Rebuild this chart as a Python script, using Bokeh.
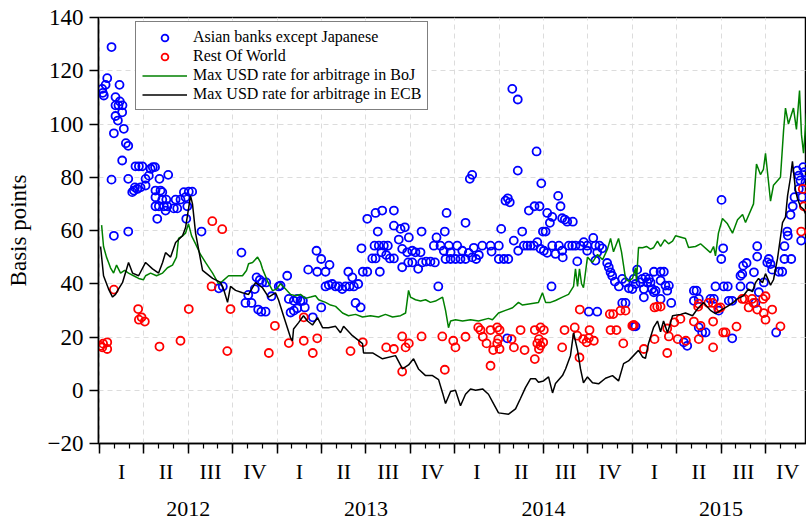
from bokeh.plotting import figure
from bokeh.models import Range1d, LinearAxis, FixedTicker, Legend, LegendItem, CustomLabelingPolicy
from bokeh.embed import file_html
from bokeh.resources import INLINE

FONT = "Liberation Serif"

# ---- data: x = months since 1 Jan 2012, y = basis points ----
asia_month = [
    0.18, 0.22, 0.29, 0.41, 0.52, 0.81, 1.35, 1.08, 1.37, 1.08,
    1.28, 1.55, 1.53, 1.08, 1.24, 0.97, 1.64, 1.78, 1.94, 1.53,
    0.81, 1.94, 0.97, 1.94, 2.21, 2.32, 2.39, 2.55, 2.77, 3.11,
    3.11, 3.33, 3.45, 3.60, 3.75, 2.43, 2.66, 2.89, 4.05, 4.64,
    3.78, 4.12, 4.24, 3.78, 3.78, 4.01, 4.24, 4.35, 4.51, 4.58,
    4.46, 3.90, 5.02, 5.25, 5.14, 5.47, 5.70, 5.81, 5.93, 6.03,
    6.26, 5.86, 6.89, 9.59, 10.61, 10.83, 10.99, 11.26, 10.49, 10.05,
    9.86, 10.27, 10.72, 10.93, 11.22, 11.62, 12.11, 8.06, 8.33, 12.23,
    12.68, 12.79, 13.13, 13.36, 13.58, 13.74, 12.91, 13.13, 13.36, 13.87,
    14.41, 14.98, 14.10, 14.71, 14.66, 14.98, 15.27, 15.54, 15.27, 15.49,
    15.72, 15.95, 16.17, 16.40, 16.62, 16.89, 17.18, 17.48, 17.30, 17.64,
    16.81, 17.08, 17.70, 17.79, 18.09, 18.09, 18.65, 19.10, 19.89, 18.80,
    18.94, 18.43, 18.65, 18.58, 18.87, 19.21, 19.48, 19.05, 19.37, 19.62,
    19.89, 19.89, 20.34, 20.63, 20.22, 20.45, 20.90, 20.79, 21.13, 20.45,
    20.86, 21.13, 21.35, 21.53, 21.69, 21.80, 22.07, 22.36, 22.66, 21.76,
    22.89, 22.77, 23.33, 23.45, 22.59, 23.04, 23.26, 23.60, 23.72, 24.17,
    23.38, 23.72, 24.05, 24.39, 24.51, 24.73, 24.95, 25.18, 25.29, 25.45,
    25.63, 25.86, 26.42, 26.49, 26.98, 26.98, 27.32, 27.62, 24.73, 25.02,
    25.18, 27.14, 27.43, 27.59, 27.72, 27.89, 28.26, 27.99, 28.29, 28.56,
    28.26, 28.67, 28.90, 29.12, 29.35, 29.58, 29.80, 30.02, 30.25, 30.59,
    30.81, 31.04, 31.26, 31.30, 31.71, 31.94, 32.16, 32.50, 32.72, 29.53,
    29.85, 29.01, 29.39, 29.73, 29.96, 30.14, 30.25, 30.59, 30.43, 30.99,
    31.15, 31.26, 31.44, 31.60, 31.98, 30.54, 32.28, 32.95, 33.36, 33.51,
    33.63, 33.78, 33.97, 33.51, 34.30, 34.41, 34.53, 34.64, 34.82, 35.09,
    35.32, 35.54, 35.77, 36.00, 33.06, 33.63, 35.32, 35.54, 36.22, 27.55,
    32.95, 36.33, 36.10, 36.22, 36.55, 36.67, 36.89, 37.01, 36.78, 37.12,
    37.23, 37.34, 36.78, 37.46, 37.91, 38.13, 37.91, 38.24, 38.47, 38.36,
    37.91, 37.57, 37.46, 38.63, 36.10, 40.16, 40.34, 40.16, 40.49, 40.49,
    40.72, 40.95, 39.48, 39.71, 41.28, 41.51, 41.62, 42.18, 42.45, 42.52,
    42.75, 41.84, 42.75, 42.03, 42.14, 42.01, 43.31, 43.31, 43.43, 43.49,
    43.72, 43.99, 44.22, 44.44, 44.44, 44.32, 44.55, 44.89, 45.12, 45.22,
    45.34, 45.45, 45.90, 46.13, 46.28, 46.28, 46.74, 45.72, 46.51, 46.47,
    46.69, 46.84, 46.96, 47.14, 47.25, 47.36, 47.55, 47.64, 47.25, 47.48,
    47.41, 47.70,
]
asia_bp = [
    113.2, 111.7, 110.7, 114.7, 117.2, 128.9, 114.7, 110.1, 108.5, 107.0,
    107.0, 107.0, 104.4, 103.0, 101.3, 96.5, 98.2, 92.8, 91.8, 86.3,
    79.1, 79.4, 58.0, 59.6, 74.4, 75.0, 76.2, 75.6, 76.2, 76.9,
    79.4, 80.6, 83.2, 83.8, 83.8, 84.1, 84.1, 84.1, 79.4, 80.9,
    75.0, 75.0, 74.4, 72.5, 69.1, 69.1, 71.6, 69.1, 71.6, 69.1,
    67.5, 64.4, 68.3, 68.3, 71.6, 71.6, 74.4, 72.5, 69.1, 74.6,
    74.6, 64.4, 59.6, 51.7, 42.4, 41.4, 40.5, 40.5, 38.0, 35.8,
    32.8, 32.8, 30.3, 29.5, 29.5, 35.3, 39.0, 38.3, 39.0, 39.3,
    43.0, 34.3, 33.6, 34.3, 33.6, 33.6, 29.2, 29.9, 30.8, 31.1,
    27.4, 31.1, 45.3, 44.5, 52.4, 49.3, 44.5, 47.1, 39.0, 39.5,
    39.9, 39.0, 39.0, 38.0, 39.0, 39.0, 39.0, 39.9, 32.8, 31.1,
    44.5, 42.4, 53.3, 44.5, 44.5, 64.4, 66.6, 67.5, 67.5, 59.6,
    44.5, 49.5, 49.5, 54.3, 54.3, 54.3, 54.3, 51.8, 50.8, 49.5,
    49.5, 61.8, 60.6, 61.2, 56.6, 53.1, 57.4, 51.8, 52.4, 46.2,
    48.0, 48.0, 51.8, 45.6, 51.8, 48.0, 48.3, 48.3, 48.0, 59.6,
    39.0, 57.4, 59.6, 66.6, 54.3, 54.3, 52.4, 54.3, 51.8, 54.3,
    49.3, 49.3, 49.3, 49.3, 52.4, 49.3, 51.6, 49.9, 53.5, 49.3,
    50.8, 54.3, 54.3, 52.1, 54.3, 49.3, 49.3, 49.3, 62.9, 79.4,
    80.9, 60.6, 71.2, 72.1, 70.6, 113.2, 109.2, 56.2, 52.4, 59.6,
    82.5, 54.3, 54.3, 54.3, 54.3, 55.6, 53.1, 52.4, 51.6, 54.3,
    51.2, 54.3, 52.4, 49.9, 54.3, 54.3, 54.3, 54.3, 55.6, 89.7,
    77.7, 67.5, 69.1, 69.1, 59.6, 59.6, 66.6, 65.1, 62.9, 73.0,
    69.1, 64.6, 64.1, 63.3, 63.3, 39.0, 48.4, 54.3, 57.2, 54.3,
    51.8, 54.3, 53.3, 48.7, 47.8, 46.2, 44.3, 43.0, 40.8, 39.0,
    41.8, 40.5, 38.3, 38.0, 29.5, 29.5, 32.8, 32.8, 24.0, 19.5,
    52.4, 45.3, 41.8, 39.9, 40.5, 41.8, 42.4, 40.5, 38.0, 41.8,
    40.5, 38.0, 34.9, 44.5, 44.5, 44.5, 41.2, 39.3, 39.3, 37.4,
    34.3, 37.4, 36.8, 32.8, 24.0, 37.4, 37.4, 33.6, 34.3, 23.6,
    21.7, 21.7, 18.0, 16.7, 34.3, 34.3, 39.0, 39.0, 39.0, 33.6,
    33.6, 29.9, 19.5, 71.5, 53.3, 49.3, 39.0, 43.0, 43.7, 46.8,
    47.8, 39.0, 44.3, 54.1, 50.2, 32.8, 36.8, 40.5, 48.0, 49.3,
    47.4, 45.3, 44.5, 44.5, 54.1, 49.3, 49.3, 21.7, 58.1, 59.6,
    65.9, 69.1, 72.5, 82.5, 80.6, 78.8, 83.8, 81.9, 75.6, 72.5,
    56.2, 78.1,
]

row_month = [
    0.07, 0.18, 0.24, 0.52, 0.52, 0.97, 2.61, 2.84, 2.66, 3.06,
    4.05, 5.47, 6.03, 7.62, 8.29, 7.57, 8.85, 8.63, 11.44, 11.85,
    12.79, 13.80, 13.80, 14.41, 14.71, 16.96, 17.79, 19.37, 19.89, 20.45,
    20.90, 20.68, 20.45, 21.76, 23.16, 23.33, 23.90, 24.05, 24.73, 25.59,
    25.74, 25.90, 26.15, 26.42, 26.60, 26.42, 26.87, 27.03, 26.94, 26.87,
    27.03, 27.84, 28.00, 28.45, 28.72, 29.41, 29.41, 29.58, 29.69, 29.80,
    29.69, 29.98, 29.80, 30.02, 31.26, 31.42, 32.11, 32.28, 32.43, 32.45,
    32.68, 32.91, 33.06, 33.40, 33.11, 34.53, 34.93, 34.48, 34.71, 35.20,
    35.54, 35.39, 36.00, 36.10, 36.78, 37.50, 37.50, 37.68, 37.91, 38.36,
    38.47, 38.36, 38.84, 39.25, 39.07, 39.62, 40.16, 40.45, 40.49, 40.61,
    40.49, 41.14, 41.44, 41.46, 41.46, 41.80, 41.96, 42.14, 42.30, 43.04,
    43.43, 43.58, 43.86, 44.09, 44.19, 44.44, 44.84, 45.00, 44.88, 45.00,
    45.45, 46.01, 47.41, 47.52, 47.59,
]
row_bp = [
    16.7, 16.1, 17.5, 18.0, 15.5, 37.8, 30.5, 27.4, 26.5, 25.8,
    16.4, 18.6, 30.5, 63.5, 60.5, 39.0, 30.5, 14.7, 14.0, 24.2,
    17.7, 27.4, 18.6, 14.0, 19.5, 14.7, 18.0, 16.1, 15.5, 20.2,
    17.6, 16.1, 7.0, 20.2, 20.2, 7.7, 18.6, 16.1, 20.1, 23.6,
    22.6, 20.1, 17.6, 22.6, 15.1, 9.2, 23.6, 22.6, 19.2, 17.6,
    15.5, 19.2, 16.1, 22.6, 15.1, 22.6, 11.7, 17.6, 15.5, 16.8,
    19.2, 18.0, 23.6, 22.6, 16.1, 22.6, 23.6, 20.5, 12.3, 30.3,
    19.2, 18.0, 19.6, 18.6, 22.6, 22.6, 22.6, 28.6, 28.6, 29.9,
    29.9, 17.6, 24.2, 24.5, 15.5, 19.2, 31.1, 31.4, 31.4, 23.2,
    20.2, 14.0, 25.5, 26.8, 19.2, 18.6, 25.8, 31.4, 32.5, 24.2,
    19.2, 32.8, 32.8, 25.8, 16.1, 30.8, 31.1, 21.7, 21.7, 23.9,
    34.3, 34.3, 31.1, 34.3, 32.8, 30.3, 34.3, 35.3, 29.0, 26.5,
    30.3, 24.0, 59.6, 75.6, 69.1,
]

boj_month = [
    0.14, 0.27, 0.47, 0.61, 0.74, 0.95, 1.15, 1.42, 1.69, 1.96,
    2.30, 2.64, 2.97, 3.11, 3.45, 3.85, 4.26, 4.59, 4.93, 5.20,
    5.34, 5.61, 5.81, 6.01, 6.22, 6.49, 6.82, 7.16, 7.64, 8.04,
    8.31, 8.72, 9.19, 9.66, 9.93, 10.07, 10.34, 10.68, 10.88, 11.01,
    11.35, 11.69, 11.96, 12.23, 12.57, 12.91, 13.24, 13.58, 13.92, 14.26,
    14.59, 14.80, 15.27, 15.61, 15.95, 16.42, 16.82, 17.30, 17.77, 18.31,
    18.85, 19.32, 19.80, 20.34, 20.68, 20.88, 21.01, 21.35, 21.69, 22.03,
    22.36, 22.70, 23.18, 23.38, 23.58, 23.72, 24.05, 24.53, 25.07, 25.61,
    26.28, 26.55, 26.96, 27.43, 27.91, 28.31, 28.58, 29.12, 29.66, 29.93,
    30.14, 30.47, 30.81, 31.28, 31.69, 32.03, 32.16, 32.30, 32.43, 32.57,
    32.70, 32.97, 33.31, 33.65, 33.99, 34.32, 34.53, 34.73, 35.07, 35.27,
    35.54, 35.74, 36.01, 36.22, 36.28, 36.42, 36.69, 36.96, 37.23, 37.43,
    37.70, 37.91, 38.18, 38.45, 38.72, 38.92, 39.59, 39.80, 40.27, 40.61,
    41.28, 41.49, 41.62, 41.82, 42.09, 42.43, 42.77, 43.11, 43.45, 43.65,
    44.19, 44.39, 44.66, 44.86, 45.00, 45.34, 45.54, 46.01, 46.22, 46.35,
    46.55, 46.89, 47.09, 47.30, 47.43, 47.57, 47.77,
]
boj_bp = [
    62, 54, 50, 48, 46, 44, 47, 44, 45, 44,
    43, 42, 41.5, 43, 44, 43, 44, 46, 47, 50,
    57, 58, 59, 62.5, 58, 55, 51, 48, 44, 40,
    41, 43, 43, 43, 45, 47.5, 48, 50, 48, 45.6,
    41, 37.4, 38, 40, 38, 36, 35.5, 36, 34.5, 35,
    35.5, 34, 33, 32, 31.5, 29, 28, 28.5, 27.5, 28,
    27.5, 28.5, 27.5, 28, 29, 37.5, 35, 34, 33.5, 34,
    33, 33.5, 35, 30, 23.5, 26, 26.5, 26, 26.5, 26,
    27, 26.5, 29, 30, 31, 33, 32, 32.5, 33, 36.6,
    33, 33, 33.7, 35, 36, 39, 45.6, 39, 45.6, 40,
    38.5, 50, 48, 51, 49, 53, 57, 52, 57, 52,
    42, 41, 42, 46, 41, 53.6, 53.5, 54, 53, 53.5,
    56, 54, 56.5, 55, 56, 58, 57, 53.6, 54, 55,
    51.7, 54, 50.5, 59, 64.5, 62.5, 59, 64, 66, 63,
    70, 85, 81, 83, 89, 71, 77, 80, 97.5, 106,
    100, 106, 98, 112.6, 96, 89, 104,
]

ecb_month = [
    0.07, 0.27, 0.61, 0.88, 1.08, 1.28, 1.55, 1.96, 2.23, 2.64,
    3.11, 3.58, 3.99, 4.26, 4.46, 4.80, 5.14, 5.61, 5.81, 6.15,
    6.28, 6.49, 6.96, 7.64, 8.18, 8.38, 8.65, 8.85, 9.19, 9.66,
    10.07, 10.54, 11.01, 11.42, 11.89, 12.09, 12.43, 12.91, 13.04, 13.11,
    13.45, 13.78, 14.05, 14.39, 14.73, 15.07, 15.47, 15.95, 16.28, 16.49,
    17.09, 17.77, 17.84, 18.45, 19.12, 20.00, 20.47, 20.88, 21.22, 21.55,
    22.03, 22.50, 22.91, 23.18, 23.38, 23.72, 24.05, 24.39, 24.73, 25.07,
    25.41, 25.88, 26.28, 26.62, 26.96, 27.64, 28.11, 28.45, 28.78, 29.12,
    29.46, 29.66, 30.00, 30.34, 30.61, 30.81, 31.28, 31.49, 31.82, 32.03,
    32.30, 32.50, 32.70, 32.97, 33.31, 33.72, 34.19, 34.66, 35.07, 35.41,
    35.74, 36.08, 36.42, 36.69, 36.89, 37.09, 37.43, 37.70, 37.91, 38.11,
    38.38, 38.72, 39.26, 39.59, 40.07, 40.41, 40.81, 41.28, 41.62, 41.96,
    42.43, 42.84, 43.11, 43.51, 43.85, 44.12, 44.32, 44.53, 44.80, 45.00,
    45.34, 45.54, 45.81, 46.15, 46.35, 46.49, 46.69, 46.82, 47.03, 47.16,
    47.36, 47.57, 47.77,
]
ecb_bp = [
    54, 43, 38, 35, 36, 38, 40.4, 48, 44, 43,
    48, 45.6, 44, 48, 51.7, 50, 55.5, 58, 61, 73,
    70, 59, 45, 42, 40.5, 38, 33, 39, 37.5, 36.6,
    36, 40.4, 38.5, 35, 36.6, 34, 28, 19.7, 18.6, 23,
    25.4, 28, 26, 24.5, 27.3, 23.5, 23.5, 24, 21.6, 24,
    20.5, 17.5, 14, 14, 11.8, 13, 8, 9.5, 11.8, 8,
    5.5, 5.5, 4, -1, -5, -0.5, 0, -5.8, -1.5, 0.5,
    0, 0.5, -1.5, -5, -8.5, -9, -7, -3, 1, 4.3,
    4.3, 3, 3.5, 5, -1, 2.5, 5.5, 8, 13, 21.6,
    15, 8, 2.8, 5, 2.8, 2.4, 4.5, 5.5, 3.5, 10,
    11, 13, 15, 12.5, 12, 17.5, 23.5, 26, 22, 26,
    21.6, 28, 28.5, 29, 28, 30.6, 33, 30, 28.8, 30,
    31.5, 33, 34.4, 35.5, 38, 37, 40.4, 42, 40.4, 43.8,
    39.5, 41.5, 49.4, 63, 65, 73, 80, 86, 75, 72,
    69, 68, 65.6,
]

y_ticks = [-20, 0, 20, 40, 60, 80, 100, 120, 140]
quarter_edges = [3 * k for k in range(17)]
month_edges = list(range(49))
quarter_mid = [1.5 + 3 * k for k in range(16)]
quarter_names = ["I", "II", "III", "IV"] * 4
year_mid = [6, 18, 30, 42]
year_names = ["2012", "2013", "2014", "2015"]

p = figure(frame_width=708, frame_height=426,
           x_range=Range1d(-0.07, 47.77), y_range=Range1d(-20, 140),
           output_backend="svg", toolbar_location=None,
           min_border_left=98, min_border_right=0, min_border_top=17, min_border_bottom=78,
           background_fill_color="white", border_fill_color="white")
p.outline_line_color = "black"
p.outline_line_width = 1.5

# grids
p.xgrid.ticker = FixedTicker(ticks=quarter_edges)
p.ygrid.ticker = FixedTicker(ticks=y_ticks)
for g in (p.xgrid[0], p.ygrid[0]):
    g.grid_line_color = "#dcdcdc"
    g.grid_line_dash = "5 4"
    g.grid_line_width = 1

# y axis
ya = p.yaxis[0]
ya.ticker = FixedTicker(ticks=y_ticks)
ya.major_tick_out = 9
ya.major_tick_in = 0
ya.minor_tick_out = 0
ya.minor_tick_in = 0
ya.axis_line_width = 1.5
ya.major_tick_line_width = 1.5
ya.major_label_text_font = FONT
ya.major_label_text_font_size = "23px"
ya.major_label_text_color = "black"
ya.major_label_standoff = 6
ya.axis_label = "Basis points"
ya.axis_label_text_font = FONT
ya.axis_label_text_font_size = "23px"
ya.axis_label_text_font_style = "normal"
ya.axis_label_text_color = "black"
ya.axis_label_standoff = 14

# x axis: ticks only, no labels
xa = p.xaxis[0]
xa.ticker = FixedTicker(ticks=quarter_edges, minor_ticks=month_edges)
xa.major_tick_out = 10
xa.major_tick_in = 0
xa.minor_tick_out = 5
xa.minor_tick_in = 0
xa.axis_line_width = 1.5
xa.major_tick_line_width = 1.5
xa.minor_tick_line_width = 1.2
xa.major_label_text_font_size = "1px"
xa.major_label_standoff = 0
xa.major_label_policy = CustomLabelingPolicy(
    code="const a = [...indices]; for (const i of a) indices.unset(i); return indices")

# quarter labels
qa = LinearAxis(ticker=FixedTicker(ticks=quarter_mid, minor_ticks=[]),
                major_label_overrides={float(m): n for m, n in zip(quarter_mid, quarter_names)},
                axis_line_color=None, major_tick_line_color=None, minor_tick_line_color=None,
                major_tick_out=0, major_tick_in=0, minor_tick_out=0, minor_tick_in=0,
                major_label_text_font=FONT, major_label_text_font_size="22px",
                major_label_text_color="black", major_label_standoff=1)
p.add_layout(qa, "below")

# year labels
ya2 = LinearAxis(ticker=FixedTicker(ticks=year_mid, minor_ticks=[]),
                 major_label_overrides={m: n for m, n in zip(year_mid, year_names)},
                 axis_line_color=None, major_tick_line_color=None, minor_tick_line_color=None,
                 major_tick_out=0, major_tick_in=0, minor_tick_out=0, minor_tick_in=0,
                 major_label_text_font=FONT, major_label_text_font_size="22px",
                 major_label_text_color="black", major_label_standoff=15)
p.add_layout(ya2, "below")

# series
r_asia = p.scatter(asia_month, asia_bp, marker="circle", size=8, fill_color=None,
                   line_color="#0000ff", line_width=1.8)
r_row = p.scatter(row_month, row_bp, marker="circle", size=8, fill_color=None,
                  line_color="#ff0000", line_width=1.8)
r_boj = p.line(boj_month, boj_bp, line_color="#008000", line_width=1.5)
r_ecb = p.line(ecb_month, ecb_bp, line_color="black", line_width=1.5)

legend = Legend(items=[
    LegendItem(label="Asian banks except Japanese", renderers=[r_asia]),
    LegendItem(label="Rest Of World", renderers=[r_row]),
    LegendItem(label="Max USD rate for arbitrage in BoJ", renderers=[r_boj]),
    LegendItem(label="Max USD rate for arbitrage in ECB", renderers=[r_ecb]),
], location=(37, 333), margin=0)
legend.label_text_font = FONT
legend.label_text_font_size = "16px"
legend.label_text_color = "black"
legend.glyph_width = 45
legend.glyph_height = 17
legend.label_height = 17
legend.spacing = 1
legend.padding = 6
legend.label_standoff = 6
legend.border_line_color = "black"
legend.border_line_width = 1
legend.background_fill_color = "white"
legend.background_fill_alpha = 1
p.add_layout(legend)

open("out.html", "w").write(file_html(p, INLINE))
